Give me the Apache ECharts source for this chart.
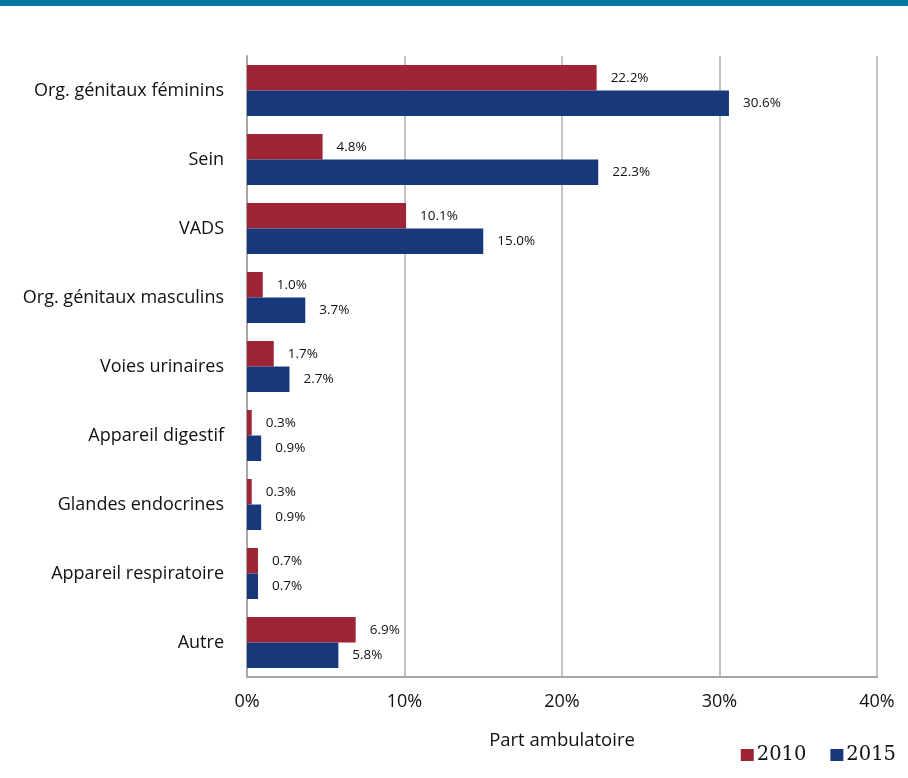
<!DOCTYPE html>
<html>
<head>
<meta charset="utf-8">
<script src="https://cdn.jsdelivr.net/npm/echarts@6/dist/echarts.min.js"></script>
<style>
html,body{margin:0;padding:0;background:#fff;}
#topbar{position:absolute;left:0;top:0;width:908px;height:6px;background:#0077a2;}
#chart{position:absolute;left:0;top:0;width:908px;height:778px;}
</style>
</head>
<body>
<div id="chart"></div>
<div id="topbar"></div>
<script>
const categories = ["Org. génitaux féminins","Sein","VADS","Org. génitaux masculins","Voies urinaires","Appareil digestif","Glandes endocrines","Appareil respiratoire","Autre"];
const values2010 = [22.2, 4.8, 10.1, 1.0, 1.7, 0.3, 0.3, 0.7, 6.9];
const values2015 = [30.6, 22.3, 15.0, 3.7, 2.7, 0.9, 0.9, 0.7, 5.8];
const seriesNames = ["2010", "2015"];
const xTicks = [0, 10, 20, 30, 40];
const axisTitle = "Part ambulatoire";

const chart = echarts.init(document.getElementById('chart'), null, {renderer:'canvas'});
const labelFont = "Open Sans";
const mkLabel = {
  show: true, position: 'right', distance: 14,
  formatter: p => p.value.toFixed(1) + '%',
  fontFamily: labelFont, fontSize: 13.5, color: '#111'
};
chart.setOption({
  animation: false,
  grid: {left: 247, right: 31, top: 56, bottom: 101},
  legend: {
    data: seriesNames, right: 7, top: 740, itemWidth: 13, itemHeight: 12, itemGap: 24,
    icon: 'rect',
    textStyle: {fontFamily: 'DejaVu Serif', fontSize: 19.5, color: '#111', padding:[0,0,0,-2]}
  },
  xAxis: {
    type: 'value', min: xTicks[0], max: xTicks[xTicks.length-1], interval: 10,
    name: axisTitle, nameLocation: 'middle', nameGap: 54,
    nameTextStyle: {fontFamily: labelFont, fontSize: 18.5, color: '#111'},
    axisLine: {show: true, lineStyle: {color: '#a6a6a6', width: 2}},
    axisTick: {show: false},
    axisLabel: {formatter: v => v + '%', fontFamily: labelFont, fontSize: 18, color: '#111', margin: 16},
    splitLine: {show: true, lineStyle: {color: '#c4c4c4', width: 2}}
  },
  yAxis: {
    type: 'category', data: categories, inverse: true,
    axisLine: {show: true, lineStyle: {color: '#a6a6a6', width: 2}},
    axisTick: {show: false},
    axisLabel: {fontFamily: labelFont, fontSize: 18, color: '#111', margin: 23}
  },
  series: [
    {name: seriesNames[0], type: 'bar', data: values2010, barGap: '0%', barCategoryGap: '26%',
     itemStyle: {color: '#9e2535'}, label: mkLabel},
    {name: seriesNames[1], type: 'bar', data: values2015, barGap: '0%', barCategoryGap: '26%',
     itemStyle: {color: '#18387c'}, label: mkLabel}
  ]
});
</script>
</body>
</html>
